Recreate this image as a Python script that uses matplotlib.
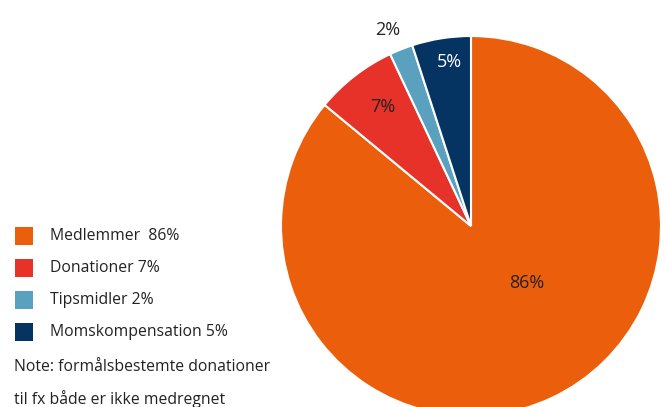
import matplotlib.pyplot as plt
from matplotlib.patches import Rectangle
import numpy as np

plt.rcParams['font.family'] = ['Open Sans', 'DejaVu Sans']

labels = ['Medlemmer', 'Donationer', 'Tipsmidler', 'Momskompensation']
shares = [86, 7, 2, 5]
colors = ['#EB5F0C', '#E63228', '#5AA1BF', '#053462']
legend_labels = ['Medlemmer  86%', 'Donationer 7%', 'Tipsmidler 2%', 'Momskompensation 5%']
note = ['Note: formålsbestemte donationer', 'til fx både er ikke medregnet']

# label placement per slice: (angle deg, fraction of radius, text colour)
label_pos = [(-45.5, 0.42, '#222222'), (126.6, 0.78, '#222222'),
             (113.0, 1.12, '#222222'), (97.6, 0.87, 'white')]

W, H = 665, 407
fig = plt.figure(figsize=(W / 100, H / 100), dpi=100)
ax = fig.add_axes([0, 0, 1, 1])

cx, cy, R = 471, 181, 190
ax.pie(shares, colors=colors, startangle=90, counterclock=False,
       center=(cx, cy), radius=R,
       wedgeprops=dict(edgecolor='white', linewidth=1.5))

for s, (ang, f, tc) in zip(shares, label_pos):
    a = np.deg2rad(ang)
    ax.text(cx + f * R * np.cos(a), cy + f * R * np.sin(a), f'{s}%',
            ha='center', va='center', fontsize=13, color=tc)

ax.set_xlim(0, W)
ax.set_ylim(0, H)
ax.set_aspect('equal')
ax.axis('off')

# legend drawn by hand
y0 = 236
for i, (lab, c) in enumerate(zip(legend_labels, colors)):
    y = H - (y0 + 32 * i)
    ax.add_patch(Rectangle((15, y - 9), 18, 18, facecolor=c, edgecolor='none'))
    ax.text(50, y, lab, ha='left', va='center', fontsize=11.3, color='#222222')
for j, line in enumerate(note):
    ax.text(14, H - (367 + 32 * j), line, ha='left', va='center', fontsize=11.3, color='#222222')

fig.savefig('out.png', dpi=100)
